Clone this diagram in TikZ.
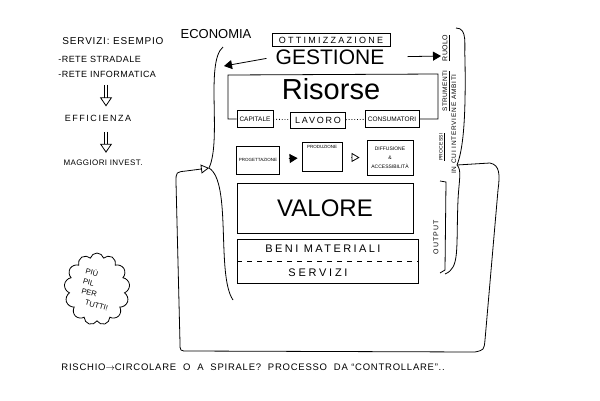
\documentclass[tikz,border=0pt]{standalone}
\usepackage{fontspec}
\setmainfont{Liberation Sans}
\usepackage{tikz}
\usetikzlibrary{arrows.meta, shapes.symbols}
\newcommand{\hw}[2]{\fontsize{#1}{#1}\selectfont\addfontfeature{LetterSpace=#2}}
\tikzstyle{Box}=[rectangle, draw=black, inner sep=1pt]
\tikzstyle{Imp}=[double, double distance=2.5pt, -{Triangle[open, length=9pt, width=12pt]}]
\tikzstyle{Head}=[-{Triangle[length=8pt, width=9pt]}]

\begin{document}
\begin{tikzpicture}[x=1pt, y=-1pt, line width=0.8pt, inner sep=1pt]
    \useasboundingbox (0,0) rectangle (600,400);

    % left column
    \path
    (113,41) node[font=\hw{10}{8}] (esempio) {SERVIZI: ESEMPIO}
    (57,59) node[anchor=west, font=\hw{9}{5}] (strade) {-RETE STRADALE}
    (57,74) node[anchor=west, font=\hw{9}{5}] (rete) {-RETE INFORMATICA}
    (98,118) node[font=\hw{9}{17}] (eff) {EFFICIENZA}
    (103,163) node[font=\hw{8}{5}] (invest) {MAGGIORI INVEST.}
    (97,289) node[cloud, draw, cloud puffs=13, cloud ignores aspect, minimum width=50, minimum height=72, inner sep=0, font=\fontsize{7.5}{12}\selectfont] (pil) {\rotatebox{-15}{\shortstack[l]{PIÙ\\[2pt]PIL\\[2pt]\,PER\\[2pt]\quad TUTTI!}}};

    \draw[Imp, shorten <=6pt, shorten >=7pt] (rete.south -| 106,0) -- (eff.north -| 106,0);
    \draw[Imp, shorten <=9pt, shorten >=6pt] (eff.south -| 106,0) -- (invest.north -| 106,0);

    % top
    \path
    (216,34) node[font=\hw{13}{0}] (econ) {ECONOMIA}
    (331,40) node[Box, minimum width=118, minimum height=13, font=\hw{9}{25}] (ottim) {OTTIMIZZAZIONE}
    (330,57) node[font=\hw{21}{0}] (gest) {GESTIONE}
    (331,89) node[font=\hw{29}{0}] (ris) {Risorse};
    \coordinate (gl) at (224,66);
    \coordinate (gr) at (441,56);
    \draw[Head, shorten <=8pt] (gest.west) -- (gl);
    \draw[Head, shorten <=22pt] (gest.east) -- (gr);

    % resources
    \path
    (255,119) node[Box, minimum width=36, minimum height=17, font=\hw{6.5}{0}] (cap) {CAPITALE}
    (318,120) node[Box, minimum width=55, minimum height=16, font=\hw{9}{20}] (lav) {LAVORO}
    (392,119) node[Box, minimum width=54, minimum height=17, font=\hw{6.5}{0}] (cons) {CONSUMATORI};
    \coordinate (risTL) at (228,75);
    \coordinate (risTR) at (438,74);
    \draw (cap.west) -| (risTL) -- (risTR) |- (cons.east);
    \draw[dotted] (cap) -- (lav) (lav) -- (cons);

    % process
    \path
    (258,160) node[Box, minimum width=43, minimum height=28, font=\hw{4.5}{0}] (prog) {PROGETTAZIONE}
    (322,157) node[Box, minimum width=40, inner sep=2pt, text height=4pt, text depth=21pt, font=\hw{4.5}{0}] (prod) {PRODUZIONE}
    (390,158) node[Box, minimum width=46, minimum height=35, align=center, font=\fontsize{5}{9}\selectfont] (diff) {DIFFUSIONE\\\&\\ACCESSIBILITÀ};
    \draw[Head, shorten <=9pt, shorten >=4pt] (prog) -- (prod);
    \draw[-{Triangle[open, length=8pt, width=9pt]}, shorten <=9pt, shorten >=7pt] (prod) -- (diff);

    % output
    \path
    (325,208) node[Box, minimum width=176, minimum height=50, font=\hw{24}{0}] (val) {VALORE\hspace{34pt}}
    (328,261) node[Box, minimum width=181, minimum height=44] (bs) {}
    (323,249) node[font=\hw{11}{22}] (beni) {BENI MATERIALI}
    (318,273) node[font=\hw{11}{25}] (serv) {SERVIZI};
    \draw[dashed, dash pattern=on 5pt off 5pt] (bs.west) -- (bs.east);

    % right side
    \path
    (446,48) node[rotate=90, font=\hw{7}{5}] (ruolo) {\underline{RUOLO}}
    (446,91) node[rotate=90, font=\hw{6.5}{5}] (strum) {\underline{STRUMENTI}}
    (442,147) node[rotate=90, font=\hw{5}{5}] (proc) {\underline{PROCESSI}}
    (454,124) node[rotate=90, font=\hw{6.5}{12}] (ambiti) {IN CUI INTERVIENE AMBITI}
    (436,237) node[rotate=90, font=\hw{7}{15}] (out) {OUTPUT};
    \draw (440,181) -- (446,182) -- (445,270) -- (440,273);

    % braces and loop
    \coordinate (ltip) at (209,168);
    \coordinate (rtip) at (457,165);
    \draw (223,47) .. controls (205,62) and (222,140) .. (ltip) .. controls (232,182) and (216,275) .. (233,300);
    \draw (456,28) .. controls (468,28) and (464,45) .. (465,60) .. controls (466,120) and (463,150) .. (rtip) .. controls (462,170) and (459,180) .. (458,200) .. controls (456,250) and (460,268) .. (445,274);
    \draw[-{Triangle[open, length=8pt, width=9pt]}] (rtip) -- (490,163) .. controls (500,165) and (500,175) .. (498,190) -- (485,340) .. controls (484,350) .. (475,352) -- (188,351) .. controls (180,351) .. (180,343) -- (176,182) .. controls (176,172) .. (186,171) -- (ltip);

    % bottom line
    \path (60,367) node[anchor=west, font=\hw{9.5}{8}] (risk) {RISCHIO$\rightarrow$CIRCOLARE\ \ O\ \ A\ \ SPIRALE?\ \ PROCESSO\ \ DA ``CONTROLLARE''..};
\end{tikzpicture}
\end{document}
